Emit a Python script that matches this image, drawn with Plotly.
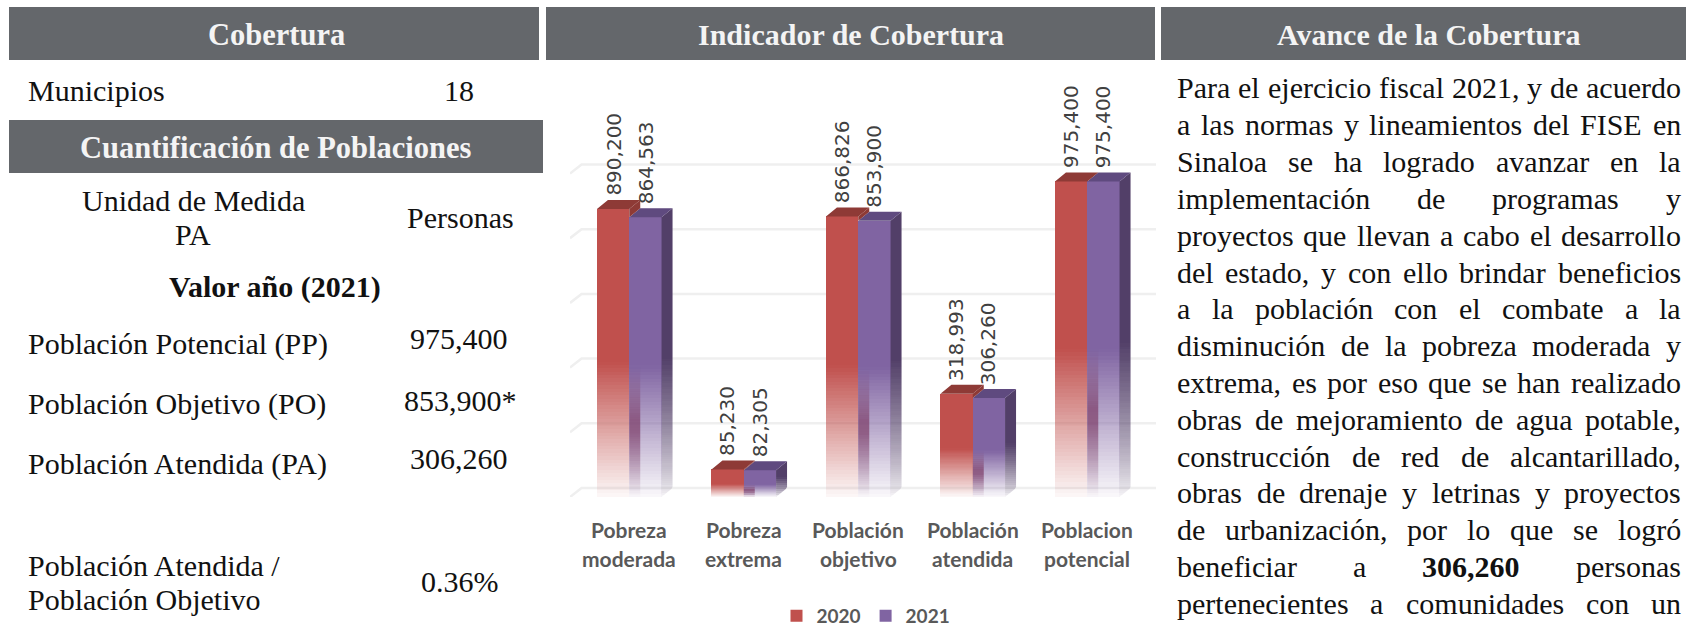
import plotly.graph_objects as go

W, H = 1686, 630
categories_line1 = ["Pobreza", "Pobreza", "Población", "Población", "Poblacion"]
categories_line2 = ["moderada", "extrema", "objetivo", "atendida", "potencial"]
values_2020 = [890200, 85230, 866826, 318993, 975400]
values_2021 = [864563, 82305, 853900, 306260, 975400]
grid_ticks = [0, 200000, 400000, 600000, 800000, 1000000]

body_lines = [
    "Para el ejercicio fiscal 2021, y de acuerdo",
    "a las normas y lineamientos del FISE en",
    "Sinaloa se ha logrado avanzar en la",
    "implementación de programas y",
    "proyectos que llevan a cabo el desarrollo",
    "del estado, y con ello brindar beneficios",
    "a la población con el combate a la",
    "disminución de la pobreza moderada y",
    "extrema, es por eso que se han realizado",
    "obras de mejoramiento de agua potable,",
    "construcción de red de alcantarillado,",
    "obras de drenaje y letrinas y proyectos",
    "de urbanización, por lo que se logró",
    "beneficiar a 306,260 personas",
    "pertenecientes a comunidades con un",
]
bold_words = ["306,260"]

RED, PUR = (192, 80, 77), (128, 100, 162)
RED_TOP, PUR_TOP, PUR_SIDE = "#8e3a36", "#5f4a7f", (82, 63, 104)
BAND = (125, 62, 105)
SERIF = "Liberation Serif"
GREY = "#64676b"

# pixel geometry of the plot
PX_PER_UNIT = 0.3235 / 1000
BASE_PX = 497
YMAX = 1100000
PX_PER_CAT = 114.5
X0_PX = 629.25
L_PX, R_PX = 570, 1156
DX = 11 / PX_PER_CAT
DY = 9 / PX_PER_UNIT
BW = 32.3 / PX_PER_CAT
FADE = 0.47
STEP = 2 / PX_PER_UNIT   # gradient slice: two screen pixels, so edges stay crisp
LEVELS = 60


def px(x): return x / W
def py(y): return 1 - y / H
def rgba(c, a): return f"rgba({c[0]},{c[1]},{c[2]},{a:.3f})"


fig = go.Figure()
shapes = []

# gridlines in perspective, under the bars
xl = (L_PX - X0_PX) / PX_PER_CAT
xr = (R_PX - X0_PX) / PX_PER_CAT
for t in grid_ticks:
    path = f"M {xl} {t} L {xl + DX * 1.05} {t + DY} L {xr} {t + DY}"
    shapes.append(dict(type="path", xref="x", yref="y", path=path, layer="below",
                       line=dict(color="#efefef", width=2.5)))

idx = list(range(5))
# front faces: stacked slices that fade towards the floor
for name, vals, off, col in [("2020", values_2020, -BW, RED), ("2021", values_2021, 0, PUR)]:
    fig.add_trace(go.Bar(x=idx, y=[v * (1 - FADE) for v in vals], base=[v * FADE for v in vals],
                         width=BW, offset=off, name=name, marker=dict(color=rgba(col, 1), line=dict(width=0)),
                         hoverinfo="skip", showlegend=True))
    for k in range(40):
        t0, t1 = k / 40, (k + 1) / 40
        fig.add_trace(go.Bar(x=idx, y=[v * FADE * (t1 - t0) for v in vals], base=[v * FADE * t0 for v in vals],
                             width=BW, offset=off,
                             marker=dict(color=rgba(col, 0.04 + 0.96 * (t0 + t1) / 2), line=dict(width=0)),
                             hoverinfo="skip", showlegend=False))


def poly(*pts):
    xs, ys = zip(*pts)
    return list(xs) + [xs[0], None], list(ys) + [ys[0], None]


def add_poly(xs, ys, color):
    fig.add_trace(go.Scatter(x=xs, y=ys, mode="lines", fill="toself", fillcolor=color,
                             line=dict(width=0), hoverinfo="skip", showlegend=False))


def add_levels(buckets, color):
    for lev in sorted(buckets):
        add_poly(buckets[lev][0], buckets[lev][1], rgba(color, lev / LEVELS))


def put(buckets, alpha, piece):
    lev = round(alpha * LEVELS)
    if lev <= 0:
        return
    b = buckets.setdefault(lev, ([], []))
    b[0].extend(piece[0])
    b[1].extend(piece[1])


# purple side face: solid upper part, then horizontal slices that follow the slanted floor edge
sx, sy = [], []
for i, v in enumerate(values_2021):
    start = int((v * FADE + DY) / STEP) * STEP
    a, b = poly((i + BW, start), (i + BW + DX, start), (i + BW + DX, v + DY), (i + BW, v))
    sx += a; sy += b
add_poly(sx, sy, rgba(PUR_SIDE, 1))
side = {}
for i, v in enumerate(values_2021):
    top = int((v * FADE + DY) / STEP)
    for k in range(top):
        y0, y1 = k * STEP, (k + 1) * STEP
        r0 = min(DX, y0 / DY * DX)
        r1 = min(DX, y1 / DY * DX)
        t = (k + 0.5) / top
        put(side, 0.03 + 0.97 * t ** 0.75,
            poly((i + BW, y0), (i + BW + r0, y0), (i + BW + r1, y1), (i + BW, y1)))
add_levels(side, PUR_SIDE)

# shadow band of the red block seen through the purple front
band = {}
for i, v in enumerate(values_2021):
    top = int(v * FADE / STEP)
    for k in range(top):
        y0, y1 = k * STEP, (k + 1) * STEP
        t = (k + 0.5) / top
        put(band, 0.72 * min(1, 2 * t) * min(1, 2.5 * (1 - t)),
            poly((i, y0), (i + DX, y0), (i + DX, y1), (i, y1)))
add_levels(band, BAND)

# top faces and red sliver
for vals, off, c in [(values_2021, 0, PUR_TOP), (values_2020, -BW, RED_TOP)]:
    sx, sy = [], []
    for i, v in enumerate(vals):
        a, b = poly((i + off, v), (i + off + DX, v + DY), (i + off + BW + DX, v + DY), (i + off + BW, v))
        sx += a; sy += b
    add_poly(sx, sy, c)
sx, sy = [], []
for i, (v, p) in enumerate(zip(values_2020, values_2021)):
    if v > p:
        a, b = poly((i, p), (i, v), (i + DX, v + DY), (i + DX, p + DY))
        sx += a; sy += b
if sx:
    add_poly(sx, sy, RED_TOP)

ann = []


def text(x, y, s, size=30, anchor="center", color="#111111", font=SERIF):
    ann.append(dict(x=px(x), y=py(y), xref="paper", yref="paper", text=s, showarrow=False,
                    xanchor=anchor, yanchor="middle", font=dict(family=font, size=size, color=color)))


# value labels
for vals, off in [(values_2020, -BW / 2), (values_2021, BW / 2)]:
    for i, v in enumerate(vals):
        ann.append(dict(x=i + off, y=v + DY, xref="x", yref="y", text=f"{v:,}", textangle=-90, showarrow=False,
                        xanchor="center", yanchor="bottom", yshift=2,
                        font=dict(family="DejaVu Sans", size=20, color="#404040")))
# category labels
for i, (a, b) in enumerate(zip(categories_line1, categories_line2)):
    for s, y in [(a, 529), (b, 558)]:
        ann.append(dict(x=i, y=py(y), xref="x", yref="paper", text=f"<b>{s}</b>", showarrow=False,
                        xanchor="center", yanchor="middle",
                        font=dict(family="Lato", size=21, color="#595959")))

# header bands
for x0, x1, y0, y1 in [(9, 539, 7, 60), (546, 1155, 7, 60), (1161, 1686, 7, 60), (9, 543, 120, 173)]:
    shapes.append(dict(type="rect", xref="paper", yref="paper", x0=px(x0), x1=px(x1), y0=py(y0), y1=py(y1),
                       fillcolor=GREY, line=dict(width=0), layer="below"))
for x, y, s, size in [(276, 35, "Cobertura", 30.5), (851, 34, "Indicador de Cobertura", 30),
                      (1429, 34, "Avance de la Cobertura", 30), (276, 148, "Cuantificación de Poblaciones", 30.5)]:
    text(x, y, f"<b>{s}</b>", size, color="#f4f4f4")

# left panel
for x, y, s, a in [
    (26, 91, "Municipios", "left"), (459, 91, "18", "center"),
    (193, 201, "Unidad de Medida", "center"), (193, 234, "PA", "center"), (460, 217, "Personas", "center"),
    (275, 287, "<b>Valor año (2021)</b>", "center"),
    (26, 344, "Población Potencial (PP)", "left"), (459, 338, "975,400", "center"),
    (26, 404, "Población Objetivo (PO)", "left"), (460, 400, "853,900*", "center"),
    (26, 464, "Población Atendida (PA)", "left"), (459, 458, "306,260", "center"),
    (26, 565, "Población Atendida /", "left"), (26, 599, "Población Objetivo", "left"), (460, 581, "0.36%", "center"),
]:
    text(x, y, s, 30, a)

# right panel: justified text, measured with Times metrics (Liberation Serif is metric compatible)
ROMAN = dict(a=444, b=500, c=444, d=500, e=444, f=333, g=500, h=500, i=278, j=278, k=500, l=278, m=778, n=500,
             o=500, p=500, q=500, r=333, s=389, t=278, u=500, v=500, w=722, x=500, y=500, z=444,
             F=556, I=333, S=556, E=611, P=556)
ROMAN.update({",": 250, ".": 250, "ó": 500, "á": 444, "é": 444, "í": 278})
ROMAN.update({d: 500 for d in "0123456789"})
BODY_SIZE = 30
LEFT, RIGHT = 1175, 1679


def width(word):
    return sum(ROMAN.get(ch, 500) for ch in word) * BODY_SIZE / 1000


for n, line in enumerate(body_lines):
    words = line.split(" ")
    total = sum(width(w) for w in words)
    gap = (RIGHT - LEFT - total) / (len(words) - 1)
    x = LEFT
    y = 88 + n * 36.8
    for w in words:
        text(x, y, f"<b>{w}</b>" if w in bold_words else w, BODY_SIZE, "left")
        x += width(w) + gap

fig.update_layout(
    width=W, height=H, autosize=False, margin=dict(l=0, r=0, t=0, b=0, autoexpand=False),
    paper_bgcolor="white", plot_bgcolor="white", barmode="overlay", bargap=0,
    xaxis=dict(domain=[px(L_PX), px(R_PX)], range=[xl, xr], visible=False, fixedrange=True),
    yaxis=dict(domain=[py(BASE_PX), py(BASE_PX - YMAX * PX_PER_UNIT)], range=[0, YMAX], visible=False, fixedrange=True),
    legend=dict(orientation="h", x=px(866), xanchor="center", y=py(616), yanchor="middle", itemwidth=30,
                font=dict(family="Lato", size=19, color="#595959", weight="bold"), bgcolor="rgba(0,0,0,0)",
                traceorder="normal"),
    shapes=shapes, annotations=ann, showlegend=True,
)
fig.write_html("out.html", config=dict(displayModeBar=False),
               post_script="document.body.style.margin='0';document.documentElement.style.overflow='hidden';")
